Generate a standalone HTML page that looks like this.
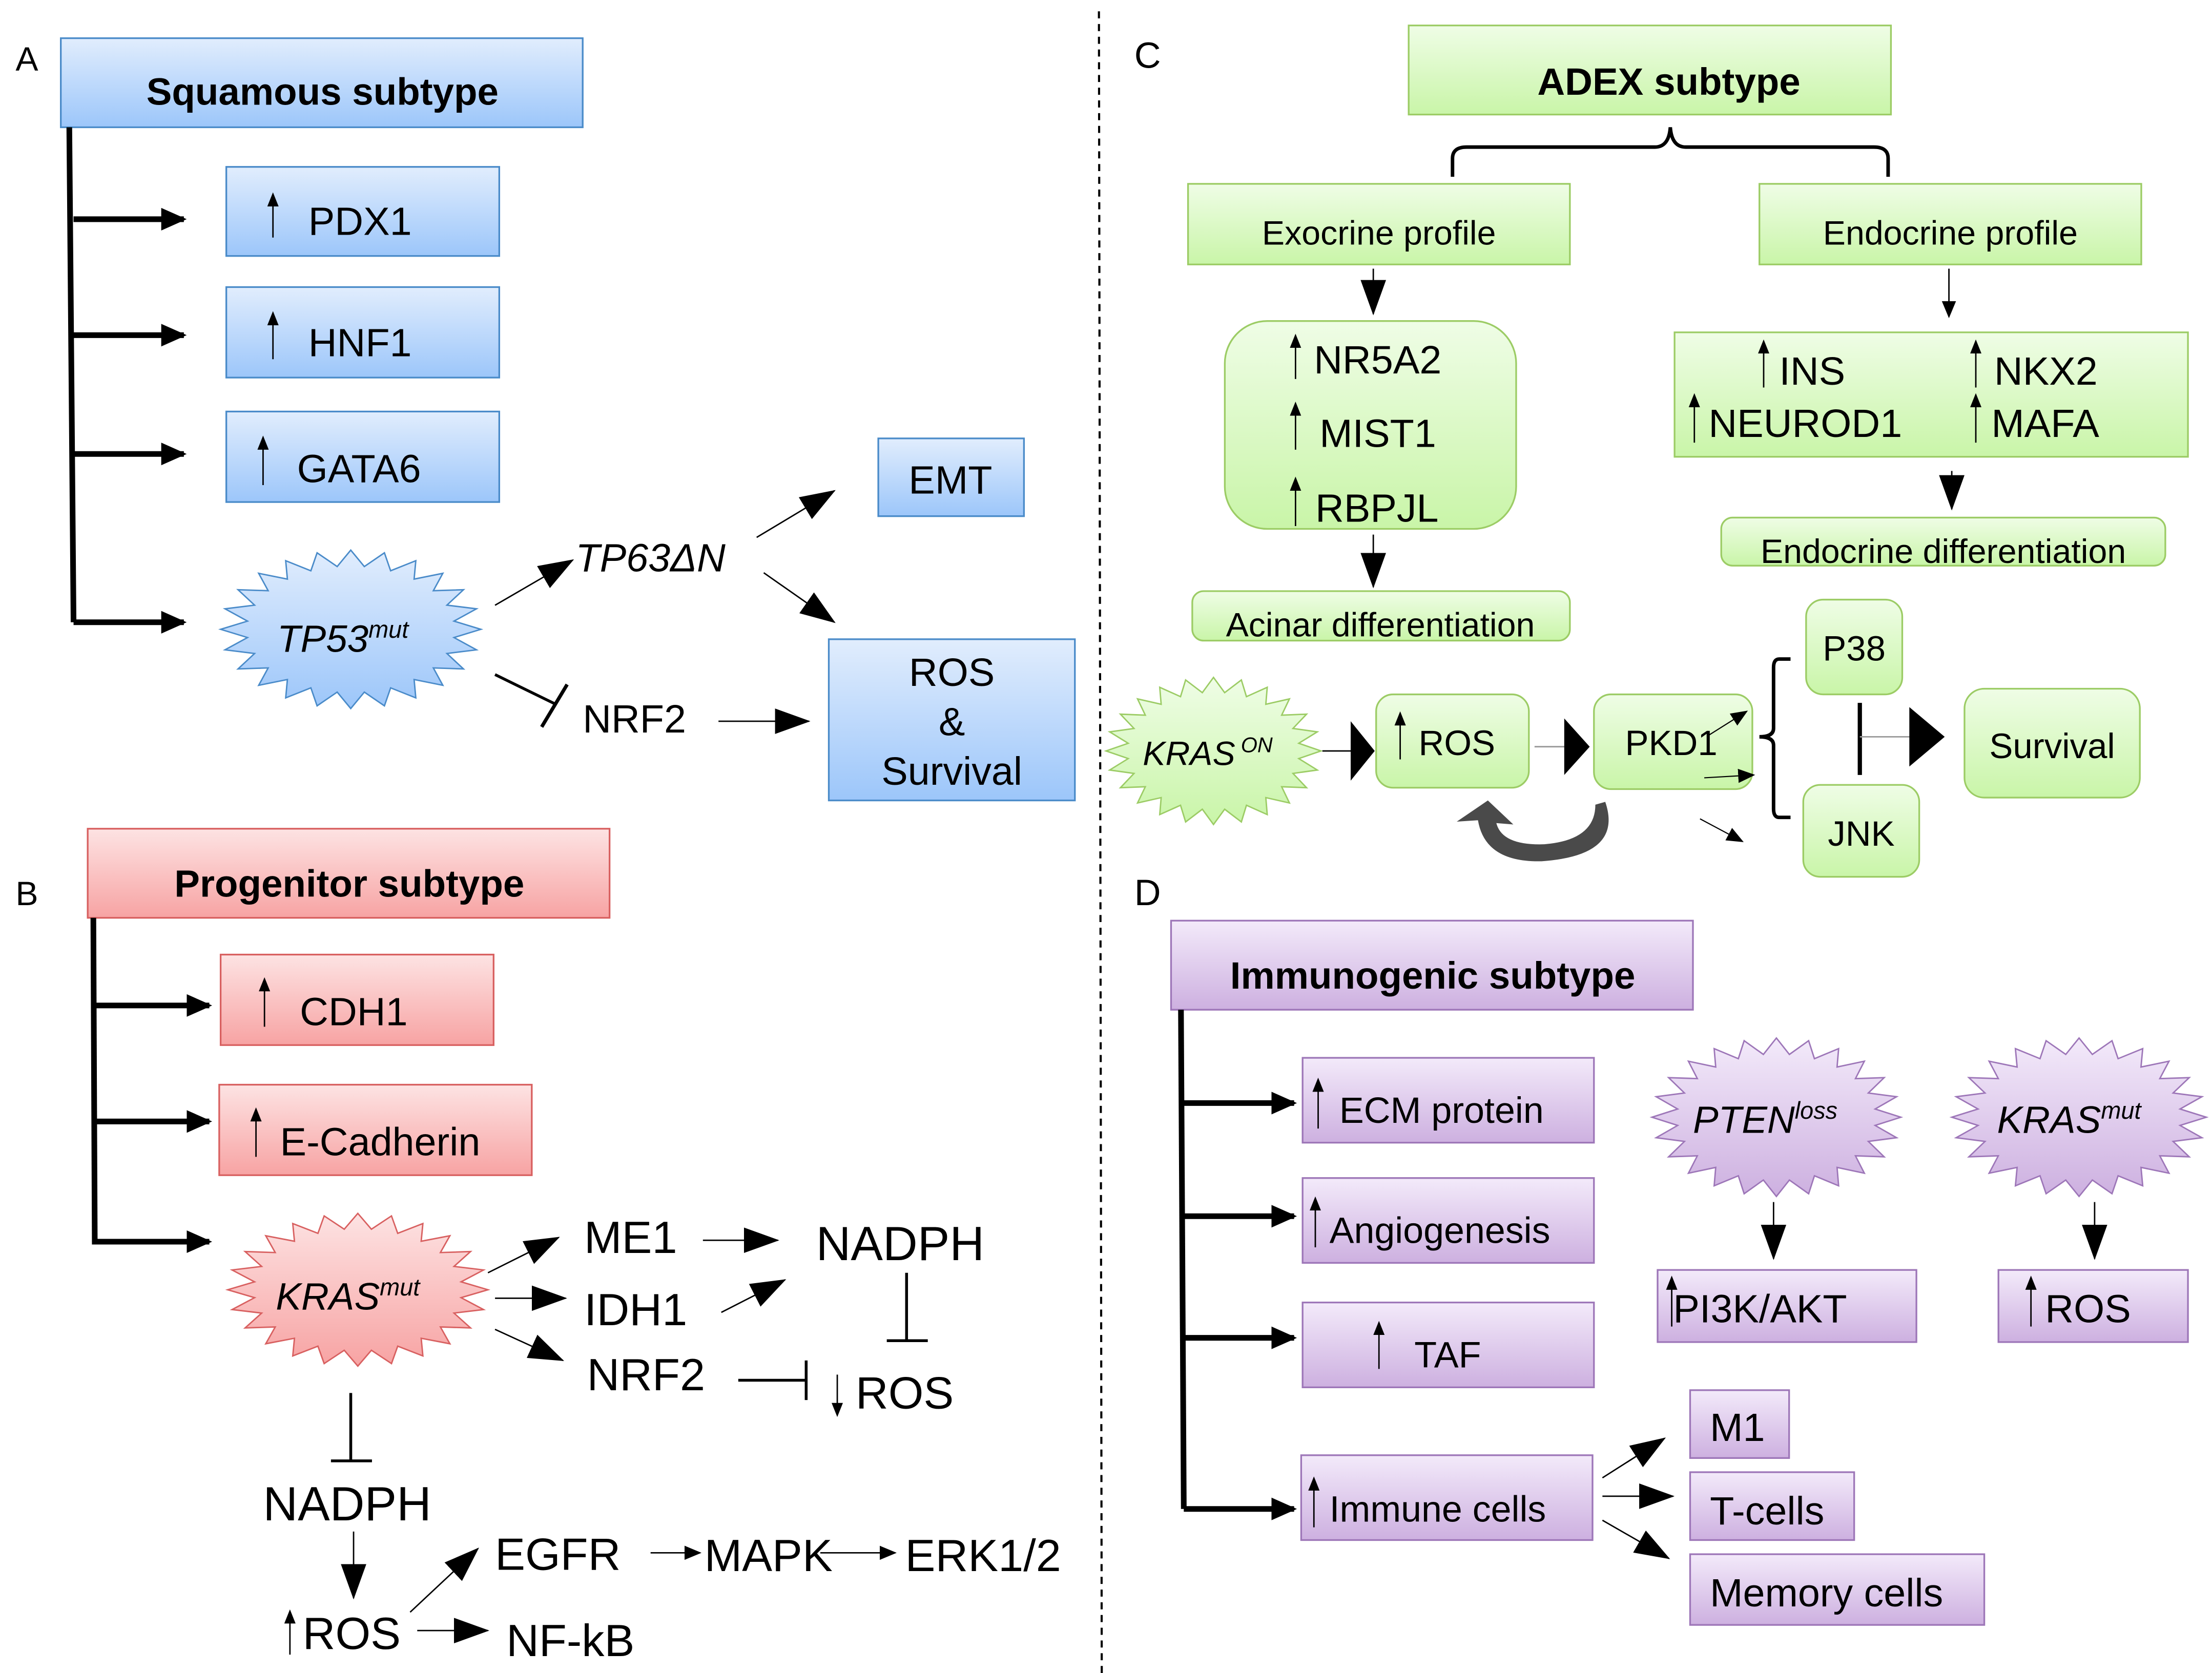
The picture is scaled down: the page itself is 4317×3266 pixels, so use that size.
<!DOCTYPE html>
<html><head><meta charset="utf-8"><style>
html,body{margin:0;padding:0;background:#fff;}
svg{display:block;}
text{font-family:"Liberation Sans",Arial,sans-serif;fill:#000;}
</style></head><body>
<svg id="s" width="4317" height="3266" viewBox="0 0 1564 1183" preserveAspectRatio="none" xmlns="http://www.w3.org/2000/svg">
<defs>
<linearGradient id="gb" x1="0" y1="0" x2="0" y2="1"><stop offset="0" stop-color="#e1edfd"/><stop offset="1" stop-color="#9cc6fa"/></linearGradient>
<linearGradient id="gr" x1="0" y1="0" x2="0" y2="1"><stop offset="0" stop-color="#fde3e3"/><stop offset="1" stop-color="#f7a3a3"/></linearGradient>
<linearGradient id="gg" x1="0" y1="0" x2="0" y2="1"><stop offset="0" stop-color="#effde6"/><stop offset="1" stop-color="#c9f5a8"/></linearGradient>
<linearGradient id="gp" x1="0" y1="0" x2="0" y2="1"><stop offset="0" stop-color="#f3eafa"/><stop offset="1" stop-color="#cdb0e0"/></linearGradient>
<marker id="mb" markerUnits="userSpaceOnUse" markerWidth="20" markerHeight="20" refX="16" refY="8" orient="auto"><path d="M0,0 L18,8 L0,16z" fill="#000"/></marker>
<marker id="mm" markerUnits="userSpaceOnUse" markerWidth="28" markerHeight="20" refX="24" refY="9" orient="auto"><path d="M0,0 L25,9 L0,18z" fill="#000"/></marker>
<marker id="ms" markerUnits="userSpaceOnUse" markerWidth="14" markerHeight="14" refX="11" refY="5" orient="auto"><path d="M0,0 L12,5 L0,10z" fill="#000"/></marker>
<marker id="mu" markerUnits="userSpaceOnUse" markerWidth="10" markerHeight="14" refX="8" refY="4" orient="auto"><path d="M0,0 L10,4 L0,8z" fill="#000"/></marker>
</defs>

<!-- divider -->
<line x1="777" y1="8" x2="779" y2="1183" stroke="#000" stroke-width="1.5" stroke-dasharray="5,4"/>

<!-- ===== A ===== -->
<text x="11" y="50" font-size="24">A</text>
<rect x="43" y="27" width="369" height="63" fill="url(#gb)" stroke="#4a8bc9" stroke-width="1.2"/>
<text x="228" y="74" font-size="27" font-weight="bold" text-anchor="middle">Squamous subtype</text>
<line x1="49" y1="90" x2="52" y2="440" stroke="#000" stroke-width="4"/>
<g stroke="#000" stroke-width="4" fill="none">
<line x1="52" y1="155" x2="130" y2="155" marker-end="url(#mb)"/>
<line x1="52" y1="237" x2="130" y2="237" marker-end="url(#mb)"/>
<line x1="52" y1="321" x2="130" y2="321" marker-end="url(#mb)"/>
<line x1="52" y1="440" x2="130" y2="440" marker-end="url(#mb)"/>
</g>
<rect x="160" y="118" width="193" height="63" fill="url(#gb)" stroke="#4a8bc9" stroke-width="1.2"/>
<rect x="160" y="203" width="193" height="64" fill="url(#gb)" stroke="#4a8bc9" stroke-width="1.2"/>
<rect x="160" y="291" width="193" height="64" fill="url(#gb)" stroke="#4a8bc9" stroke-width="1.2"/>
<g class="up"></g>
<text x="218" y="166" font-size="28">PDX1</text>
<text x="218" y="252" font-size="28">HNF1</text>
<text x="210" y="341" font-size="28">GATA6</text>
<polygon class="star" data-c="248,445,92,56" fill="url(#gb)" stroke="#4a8bc9" stroke-width="1"/>
<text x="196" y="461" font-size="27" font-style="italic">TP53<tspan font-size="17" dy="-10">mut</tspan></text>
<line x1="350" y1="428" x2="405" y2="396" stroke="#000" stroke-width="1" marker-end="url(#mm)"/>
<text x="407" y="404" font-size="28" font-style="italic">TP63ΔN</text>
<line x1="535" y1="380" x2="590" y2="347" stroke="#000" stroke-width="1" marker-end="url(#mm)"/>
<line x1="540" y1="405" x2="590" y2="440" stroke="#000" stroke-width="1" marker-end="url(#mm)"/>
<rect x="621" y="310" width="103" height="55" fill="url(#gb)" stroke="#4a8bc9" stroke-width="1.2"/>
<text x="672" y="349" font-size="28" text-anchor="middle">EMT</text>
<line x1="350" y1="477" x2="393" y2="498" stroke="#000" stroke-width="2"/>
<line x1="383" y1="514" x2="401" y2="484" stroke="#000" stroke-width="2.5"/>
<text x="412" y="518" font-size="28">NRF2</text>
<line x1="508" y1="510" x2="572" y2="510" stroke="#000" stroke-width="1" marker-end="url(#mm)"/>
<rect x="586" y="452" width="174" height="114" fill="url(#gb)" stroke="#4a8bc9" stroke-width="1.2"/>
<text x="673" y="485" font-size="28" text-anchor="middle">ROS</text>
<text x="673" y="520" font-size="28" text-anchor="middle">&amp;</text>
<text x="673" y="555" font-size="28" text-anchor="middle">Survival</text>

<!-- ===== B ===== -->
<text x="11" y="640" font-size="24">B</text>
<rect x="62" y="586" width="369" height="63" fill="url(#gr)" stroke="#d86060" stroke-width="1.2"/>
<text x="247" y="634" font-size="27" font-weight="bold" text-anchor="middle">Progenitor subtype</text>
<line x1="66" y1="649" x2="67" y2="880" stroke="#000" stroke-width="4"/>
<g stroke="#000" stroke-width="4">
<line x1="67" y1="711" x2="148" y2="711" marker-end="url(#mb)"/>
<line x1="67" y1="793" x2="148" y2="793" marker-end="url(#mb)"/>
<line x1="67" y1="878" x2="148" y2="878" marker-end="url(#mb)"/>
</g>
<rect x="156" y="675" width="193" height="64" fill="url(#gr)" stroke="#d86060" stroke-width="1.2"/>
<rect x="155" y="767" width="221" height="64" fill="url(#gr)" stroke="#d86060" stroke-width="1.2"/>
<text x="212" y="725" font-size="28">CDH1</text>
<text x="198" y="817" font-size="28">E-Cadherin</text>
<polygon class="star" data-c="253,912,92,54" fill="url(#gr)" stroke="#d86060" stroke-width="1"/>
<text x="195" y="926" font-size="27" font-style="italic">KRAS<tspan font-size="17" dy="-10">mut</tspan></text>
<g stroke="#000" stroke-width="1">
<line x1="345" y1="900" x2="395" y2="875" marker-end="url(#mm)"/>
<line x1="350" y1="918" x2="400" y2="918" marker-end="url(#mm)"/>
<line x1="350" y1="940" x2="398" y2="962" marker-end="url(#mm)"/>
<line x1="497" y1="877" x2="550" y2="877" marker-end="url(#mm)"/>
<line x1="510" y1="928" x2="555" y2="905" marker-end="url(#mm)"/>
<line x1="250" y1="1083" x2="250" y2="1130" marker-end="url(#mm)"/>
<line x1="295" y1="1153" x2="345" y2="1153" marker-end="url(#mm)"/>
<line x1="290" y1="1140" x2="338" y2="1095" marker-end="url(#mm)"/>
<line x1="460" y1="1098" x2="495" y2="1098" marker-end="url(#ms)"/>
<line x1="580" y1="1098" x2="633" y2="1098" marker-end="url(#ms)"/>
</g>
<text x="413" y="886" font-size="32">ME1</text>
<text x="413" y="937" font-size="32">IDH1</text>
<text x="415" y="983" font-size="32">NRF2</text>
<text x="577" y="891" font-size="34">NADPH</text>
<line x1="641" y1="900" x2="641" y2="948" stroke="#000" stroke-width="2"/>
<line x1="627" y1="948" x2="656" y2="948" stroke="#000" stroke-width="2"/>
<line x1="522" y1="976" x2="570" y2="976" stroke="#000" stroke-width="2"/>
<line x1="570" y1="962" x2="570" y2="990" stroke="#000" stroke-width="2"/>
<line x1="592" y1="972" x2="592" y2="1000" stroke="#000" stroke-width="1" marker-end="url(#mu)"/>
<text x="605" y="996" font-size="32">ROS</text>
<line x1="248" y1="985" x2="248" y2="1033" stroke="#000" stroke-width="2"/>
<line x1="234" y1="1033" x2="263" y2="1033" stroke="#000" stroke-width="2"/>
<text x="186" y="1075" font-size="34">NADPH</text>
<text x="214" y="1166" font-size="32">ROS</text>
<text x="358" y="1171" font-size="32">NF-kB</text>
<text x="350" y="1110" font-size="32">EGFR</text>
<text x="498" y="1111" font-size="32">MAPK</text>
<text x="640" y="1111" font-size="32">ERK1/2</text>

<!-- ===== C ===== -->
<text x="802" y="48" font-size="26">C</text>
<rect x="996" y="18" width="341" height="63" fill="url(#gg)" stroke="#9ccc65" stroke-width="1.2"/>
<text x="1180" y="67" font-size="27" font-weight="bold" text-anchor="middle">ADEX subtype</text>
<path d="M1027,125 L1027,112 Q1027,104 1037,104 L1170,104 Q1180,104 1181,90 Q1182,104 1192,104 L1325,104 Q1335,104 1335,112 L1335,125" fill="none" stroke="#000" stroke-width="2.5"/>
<rect x="840" y="130" width="270" height="57" fill="url(#gg)" stroke="#9ccc65" stroke-width="1.2"/>
<text x="975" y="173" font-size="24" text-anchor="middle">Exocrine profile</text>
<rect x="1244" y="130" width="270" height="57" fill="url(#gg)" stroke="#9ccc65" stroke-width="1.2"/>
<text x="1379" y="173" font-size="24" text-anchor="middle">Endocrine profile</text>
<g stroke="#000" stroke-width="1">
<line x1="971" y1="190" x2="971" y2="222" marker-end="url(#mm)"/>
<line x1="971" y1="378" x2="971" y2="415" marker-end="url(#mm)"/>
<line x1="1378" y1="190" x2="1378" y2="224" marker-end="url(#ms)"/>
<line x1="1380" y1="333" x2="1380" y2="360" marker-end="url(#mm)"/>
</g>
<rect x="866" y="227" width="206" height="147" rx="30" fill="url(#gg)" stroke="#9ccc65" stroke-width="1.2"/>
<text x="929" y="264" font-size="28">NR5A2</text>
<text x="933" y="316" font-size="28">MIST1</text>
<text x="930" y="369" font-size="28">RBPJL</text>
<rect x="843" y="418" width="267" height="35" rx="8" fill="url(#gg)" stroke="#9ccc65" stroke-width="1.2"/>
<text x="976" y="450" font-size="24" text-anchor="middle">Acinar differentiation</text>
<rect x="1184" y="235" width="363" height="88" fill="url(#gg)" stroke="#9ccc65" stroke-width="1.2"/>
<text x="1258" y="272" font-size="28">INS</text>
<text x="1410" y="272" font-size="28">NKX2</text>
<text x="1208" y="309" font-size="28">NEUROD1</text>
<text x="1408" y="309" font-size="28">MAFA</text>
<rect x="1217" y="366" width="314" height="34" rx="8" fill="url(#gg)" stroke="#9ccc65" stroke-width="1.2"/>
<text x="1374" y="398" font-size="24" text-anchor="middle">Endocrine differentiation</text>
<polygon class="star" data-c="858,531,76,52" fill="url(#gg)" stroke="#9ccc65" stroke-width="1"/>
<text x="808" y="541" font-size="24" font-style="italic">KRAS<tspan font-size="15" dy="-9" dx="4">ON</tspan></text>
<line x1="935" y1="531" x2="970" y2="531" stroke="#000" stroke-width="1"/>
<path d="M955,510 L972,531 L955,552z" fill="#000"/>
<rect x="973" y="491" width="108" height="66" rx="12" fill="url(#gg)" stroke="#9ccc65" stroke-width="1.2"/>
<text x="1003" y="534" font-size="25">ROS</text>
<line x1="1085" y1="528" x2="1108" y2="528" stroke="#999" stroke-width="1"/>
<path d="M1106,508 L1124,528 L1106,548z" fill="#000"/>
<rect x="1127" y="491" width="112" height="67" rx="12" fill="url(#gg)" stroke="#9ccc65" stroke-width="1.2"/>
<text x="1149" y="534" font-size="25">PKD1</text>
<line x1="1208" y1="520" x2="1235" y2="503" stroke="#000" stroke-width="0.8" marker-end="url(#ms)"/>
<line x1="1205" y1="550" x2="1240" y2="548" stroke="#000" stroke-width="0.8" marker-end="url(#ms)"/>
<line x1="1202" y1="579" x2="1232" y2="595" stroke="#000" stroke-width="0.8" marker-end="url(#ms)"/>
<path d="M1266,466 L1258,466 Q1254,466 1254,472 L1254,515 Q1254,521 1244,521 Q1254,521 1254,527 L1254,572 Q1254,578 1258,578 L1266,578" fill="none" stroke="#000" stroke-width="2.5"/>
<rect x="1277" y="424" width="68" height="67" rx="12" fill="url(#gg)" stroke="#9ccc65" stroke-width="1.2"/>
<text x="1311" y="467" font-size="25" text-anchor="middle">P38</text>
<rect x="1275" y="555" width="82" height="65" rx="12" fill="url(#gg)" stroke="#9ccc65" stroke-width="1.2"/>
<text x="1316" y="598" font-size="25" text-anchor="middle">JNK</text>
<line x1="1315" y1="497" x2="1315" y2="548" stroke="#000" stroke-width="3"/>
<line x1="1315" y1="521" x2="1352" y2="521" stroke="#999" stroke-width="1"/>
<path d="M1350,500 L1375,521 L1350,542z" fill="#000"/>
<rect x="1389" y="487" width="124" height="77" rx="14" fill="url(#gg)" stroke="#9ccc65" stroke-width="1.2"/>
<text x="1451" y="536" font-size="25" text-anchor="middle">Survival</text>
<path d="M1135,567 Q1148,605 1090,609 Q1050,610 1045,580 L1030,581 L1052,566 L1070,583 L1058,582 Q1062,598 1092,597 Q1128,594 1128,569z" fill="#4a4a4a"/>

<!-- ===== D ===== -->
<text x="802" y="640" font-size="26">D</text>
<rect x="828" y="651" width="369" height="63" fill="url(#gp)" stroke="#9d76b8" stroke-width="1.2"/>
<text x="1013" y="699" font-size="27" font-weight="bold" text-anchor="middle">Immunogenic subtype</text>
<line x1="835" y1="714" x2="837" y2="1067" stroke="#000" stroke-width="4"/>
<g stroke="#000" stroke-width="4">
<line x1="837" y1="780" x2="915" y2="780" marker-end="url(#mb)"/>
<line x1="837" y1="860" x2="915" y2="860" marker-end="url(#mb)"/>
<line x1="837" y1="946" x2="915" y2="946" marker-end="url(#mb)"/>
<line x1="837" y1="1067" x2="915" y2="1067" marker-end="url(#mb)"/>
</g>
<rect x="921" y="748" width="206" height="60" fill="url(#gp)" stroke="#9d76b8" stroke-width="1.2"/>
<rect x="921" y="833" width="206" height="60" fill="url(#gp)" stroke="#9d76b8" stroke-width="1.2"/>
<rect x="921" y="921" width="206" height="60" fill="url(#gp)" stroke="#9d76b8" stroke-width="1.2"/>
<rect x="920" y="1029" width="206" height="60" fill="url(#gp)" stroke="#9d76b8" stroke-width="1.2"/>
<text x="947" y="794" font-size="26">ECM protein</text>
<text x="940" y="879" font-size="26">Angiogenesis</text>
<text x="1000" y="967" font-size="26">TAF</text>
<text x="940" y="1076" font-size="26">Immune cells</text>
<g stroke="#000" stroke-width="1">
<line x1="1133" y1="1045" x2="1177" y2="1017" marker-end="url(#mm)"/>
<line x1="1133" y1="1058" x2="1183" y2="1058" marker-end="url(#mm)"/>
<line x1="1133" y1="1075" x2="1180" y2="1102" marker-end="url(#mm)"/>
<line x1="1254" y1="850" x2="1254" y2="890" marker-end="url(#mm)"/>
<line x1="1481" y1="850" x2="1481" y2="890" marker-end="url(#mm)"/>
</g>
<rect x="1195" y="983" width="70" height="48" fill="url(#gp)" stroke="#9d76b8" stroke-width="1.2"/>
<rect x="1195" y="1041" width="116" height="48" fill="url(#gp)" stroke="#9d76b8" stroke-width="1.2"/>
<rect x="1195" y="1099" width="208" height="50" fill="url(#gp)" stroke="#9d76b8" stroke-width="1.2"/>
<text x="1209" y="1019" font-size="28">M1</text>
<text x="1209" y="1078" font-size="28">T-cells</text>
<text x="1209" y="1136" font-size="28">Memory cells</text>
<polygon class="star" data-c="1256,790,88,56" fill="url(#gp)" stroke="#9d76b8" stroke-width="1"/>
<polygon class="star" data-c="1470,790,90,56" fill="url(#gp)" stroke="#9d76b8" stroke-width="1"/>
<text x="1197" y="801" font-size="27" font-style="italic">PTEN<tspan font-size="17" dy="-10">loss</tspan></text>
<text x="1412" y="801" font-size="27" font-style="italic">KRAS<tspan font-size="17" dy="-10">mut</tspan></text>
<rect x="1172" y="898" width="183" height="51" fill="url(#gp)" stroke="#9d76b8" stroke-width="1.2"/>
<rect x="1413" y="898" width="134" height="51" fill="url(#gp)" stroke="#9d76b8" stroke-width="1.2"/>
<text x="1183" y="935" font-size="28">PI3K/AKT</text>
<text x="1446" y="935" font-size="28">ROS</text>

<!-- up arrows -->
<g stroke="#000" stroke-width="1" id="ups">
<line x1="193" y1="168" x2="193" y2="138" marker-end="url(#mu)"/>
<line x1="193" y1="254" x2="193" y2="222" marker-end="url(#mu)"/>
<line x1="186" y1="343" x2="186" y2="310" marker-end="url(#mu)"/>
<line x1="187" y1="726" x2="187" y2="693" marker-end="url(#mu)"/>
<line x1="181" y1="818" x2="181" y2="785" marker-end="url(#mu)"/>
<line x1="592" y1="1000" x2="592" y2="1000"/>
<line x1="205" y1="1170" x2="205" y2="1140" marker-end="url(#mu)"/>
<line x1="916" y1="268" x2="916" y2="238" marker-end="url(#mu)"/>
<line x1="916" y1="318" x2="916" y2="286" marker-end="url(#mu)"/>
<line x1="916" y1="372" x2="916" y2="339" marker-end="url(#mu)"/>
<line x1="1247" y1="274" x2="1247" y2="242" marker-end="url(#mu)"/>
<line x1="1397" y1="274" x2="1397" y2="242" marker-end="url(#mu)"/>
<line x1="1198" y1="313" x2="1198" y2="280" marker-end="url(#mu)"/>
<line x1="1397" y1="313" x2="1397" y2="280" marker-end="url(#mu)"/>
<line x1="990" y1="537" x2="990" y2="505" marker-end="url(#mu)"/>
<line x1="932" y1="798" x2="932" y2="764" marker-end="url(#mu)"/>
<line x1="930" y1="882" x2="930" y2="848" marker-end="url(#mu)"/>
<line x1="975" y1="968" x2="975" y2="936" marker-end="url(#mu)"/>
<line x1="929" y1="1080" x2="929" y2="1046" marker-end="url(#mu)"/>
<line x1="1182" y1="938" x2="1182" y2="904" marker-end="url(#mu)"/>
<line x1="1436" y1="938" x2="1436" y2="904" marker-end="url(#mu)"/>
</g>
</svg>
<script>
document.querySelectorAll('polygon.star').forEach(function(p){
  var c=p.getAttribute('data-c').split(',').map(Number);
  var n=24,pts=[];
  for(var i=0;i<2*n;i++){
    var a=Math.PI*i/n - Math.PI/2, r=(i%2==0)?1:0.8;
    pts.push((c[0]+c[2]*r*Math.cos(a)).toFixed(1)+','+(c[1]+c[3]*r*Math.sin(a)).toFixed(1));
  }
  p.setAttribute('points',pts.join(' '));
});
</script>
</body></html>
